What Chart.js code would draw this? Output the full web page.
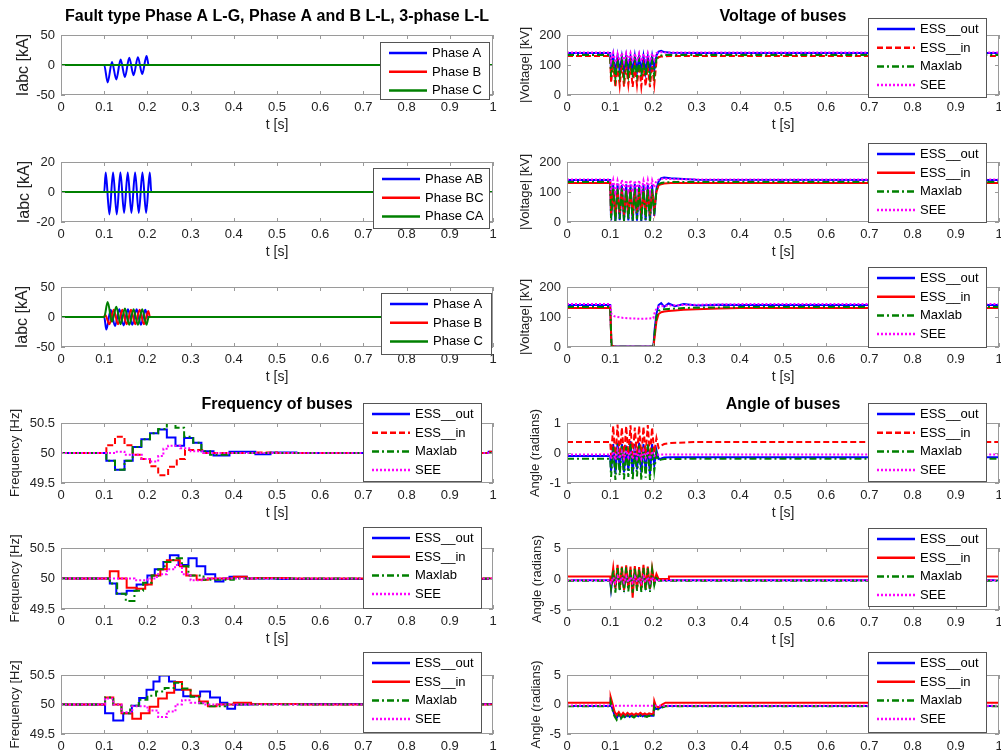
<!DOCTYPE html>
<html>
<head>
<meta charset="UTF-8">
<title>Fault simulation - currents, voltage, frequency and angle of buses</title>
<script src="https://cdn.jsdelivr.net/npm/chart.js"></script>
<style>
  html, body { margin: 0; padding: 0; background: #fff; }
  body { width: 1001px; height: 755px; overflow: hidden; position: relative; }
  canvas { position: absolute; }
</style>
</head>
<body>
<script>
// ---------- shared axis ticks ----------
const xTicks = [0, 0.1, 0.2, 0.3, 0.4, 0.5, 0.6, 0.7, 0.8, 0.9, 1];
const xTickLabels = ['0', '0.1', '0.2', '0.3', '0.4', '0.5', '0.6', '0.7', '0.8', '0.9', '1'];
const yTicksI50 = [-50, 0, 50];
const yTicksI20 = [-20, 0, 20];
const yTicksV = [0, 100, 200];
const yTicksF = [49.5, 50, 50.5];
const yTicksA1 = [-1, 0, 1];
const yTicksA5 = [-5, 0, 5];

// ---------- currents [kA] ----------
const tFlat = [0, 1];
const iZero = [0, 0];
// phase A to ground
const tA1 = [0, 0.1, 0.108, 0.118, 0.128, 0.138, 0.148, 0.158, 0.168, 0.178, 0.188, 0.198, 0.203, 1];
const iA1 = [0, 0, -29, 5, -24, 9, -20, 12, -17, 13, -15, 15, 0, 0];
// phase A-B
const tAB2 = [0, 0.1, 0.1035, 0.112, 0.1205, 0.129, 0.1375, 0.146, 0.1545, 0.163, 0.1715, 0.18, 0.1885, 0.197, 0.2055, 0.209, 1];
const iAB2 = [0, 0, 13, -15, 13, -15, 13, -14, 13, -14, 13, -14, 13, -14, 13, 0, 0];
// three phase
const tA3 = [0, 0.1, 0.105, 0.115, 0.125, 0.135, 0.145, 0.155, 0.165, 0.175, 0.185, 0.195, 0.201, 1];
const iA3 = [0, 0, -21, 12, -15, 13, -14, 13, -13, 13, -13, 12, 0, 0];
const tB3 = [0, 0.1, 0.102, 0.112, 0.122, 0.132, 0.142, 0.152, 0.162, 0.172, 0.182, 0.192, 0.202, 0.206, 1];
const iB3 = [0, 0, 4, -12, 12, -12, 12, -12, 12, -12, 12, -12, 10, 0, 0];
const tC3 = [0, 0.1, 0.108, 0.118, 0.128, 0.138, 0.148, 0.158, 0.168, 0.178, 0.188, 0.198, 0.203, 1];
const iC3 = [0, 0, 25, -8, 17, -12, 14, -13, 13, -13, 13, -13, 0, 0];

// ---------- voltage of buses [kV] ----------
const tVolt = [0, 0.1, 0.102, 0.107, 0.112, 0.117, 0.122, 0.127, 0.132, 0.137, 0.142, 0.147, 0.152, 0.157,
  0.162, 0.167, 0.172, 0.177, 0.182, 0.187, 0.192, 0.197, 0.202, 0.207, 0.212, 0.218, 0.225, 0.24, 0.3, 1];
const vOut4 = [140, 140, 80, 132, 72, 130, 78, 128, 75, 130, 80, 128, 76, 130, 78, 128, 80, 130, 76, 128, 80, 130, 85, 132, 145, 147, 143, 141, 140, 140];
const vIn4 = [130, 130, 40, 108, 25, 100, 32, 105, 28, 100, 35, 102, 27, 98, 33, 100, 28, 96, 30, 98, 26, 100, 35, 110, 126, 128, 129, 130, 130, 130];
const vMax4 = [133, 133, 60, 118, 55, 115, 62, 116, 58, 114, 64, 115, 58, 112, 63, 114, 60, 112, 62, 115, 58, 113, 65, 120, 130, 132, 133, 133, 133, 133];
const vSee4 = [142, 142, 112, 140, 108, 138, 114, 140, 110, 139, 115, 140, 111, 138, 114, 139, 112, 138, 115, 140, 112, 139, 118, 140, 142, 143, 142, 142, 142, 142];

const vOut5 = [140, 140, 5, 125, 2, 128, 6, 124, 3, 126, 5, 125, 2, 127, 4, 124, 3, 126, 5, 125, 2, 124, 20, 110, 135, 146, 148, 146, 141, 140];
const vIn5 = [130, 130, 25, 110, 18, 105, 30, 108, 22, 104, 28, 106, 20, 102, 30, 105, 24, 103, 28, 106, 22, 104, 40, 100, 122, 126, 128, 130, 130, 130];
const vMax5 = [133, 133, 8, 115, 0, 112, 10, 114, 3, 110, 8, 113, 2, 111, 9, 114, 3, 112, 7, 113, 2, 110, 25, 105, 125, 130, 132, 133, 133, 133];
const vSee5 = [142, 142, 105, 140, 100, 138, 108, 140, 102, 139, 106, 140, 100, 138, 107, 139, 103, 138, 106, 140, 101, 139, 115, 138, 141, 144, 144, 143, 142, 142];

const tVolt6 = [0, 0.1, 0.103, 0.11, 0.13, 0.15, 0.17, 0.19, 0.2, 0.203, 0.207, 0.212, 0.218, 0.225, 0.235, 0.25, 0.27, 0.3, 0.35, 0.4, 1];
const vOut6 = [140, 140, 3, 2, 2, 2, 2, 2, 2, 60, 110, 140, 146, 134, 145, 136, 143, 138, 141, 140, 140];
const vIn6 = [130, 130, 5, 1, 1, 1, 1, 1, 1, 35, 85, 110, 116, 118, 120, 122, 124, 126, 128, 130, 130];
const vMax6 = [133, 133, 4, 1, 1, 1, 1, 1, 1, 50, 100, 120, 125, 126, 127, 128, 130, 131, 132, 133, 133];
const vSee6 = [143, 143, 110, 102, 97, 95, 94, 95, 96, 115, 128, 134, 136, 137, 138, 139, 140, 141, 142, 143, 143];

// ---------- frequency of buses [Hz] (step values) ----------
const tFo7 = [0, 0.105, 0.125, 0.147, 0.166, 0.186, 0.206, 0.225, 0.245, 0.265, 0.285, 0.306, 0.325, 0.353, 0.39, 0.45, 0.485, 0.545, 0.99, 1];
const fOut7 = [50, 49.87, 49.72, 49.87, 50.1, 50.23, 50.33, 50.39, 50.26, 50.12, 50.25, 50.17, 50.03, 49.96, 50.02, 49.98, 50.01, 50.0, 50.02, 50.02];
const tFi7 = [0, 0.105, 0.125, 0.147, 0.166, 0.186, 0.206, 0.225, 0.248, 0.268, 0.287, 0.33, 0.45, 0.5, 0.99, 1];
const fIn7 = [50, 50.13, 50.27, 50.13, 49.97, 49.9, 49.78, 49.63, 49.77, 49.9, 50.05, 50.0, 50.01, 50.0, 50.02, 50.02];
const tFm7 = [0, 0.105, 0.125, 0.147, 0.166, 0.186, 0.206, 0.225, 0.245, 0.265, 0.285, 0.306, 0.325, 0.345, 0.385, 1];
const fMax7 = [50, 49.87, 49.72, 49.87, 50.1, 50.23, 50.33, 50.4, 50.5, 50.42, 50.27, 50.17, 50.03, 49.97, 50.0, 50.0];
const tFs7 = [0, 0.125, 0.147, 0.167, 0.187, 0.206, 0.225, 0.237, 0.248, 0.276, 0.3, 0.33, 1];
const fSee7 = [50, 50.02, 49.97, 49.97, 49.9, 49.86, 49.95, 50.07, 50.12, 50.08, 50.03, 50.0, 50.0];

const tFo8 = [0, 0.113, 0.128, 0.152, 0.175, 0.2, 0.217, 0.237, 0.252, 0.272, 0.295, 0.314, 0.334, 0.357, 0.376, 0.39, 0.43, 0.5, 1];
const fOut8 = [50, 49.92, 49.75, 49.8, 49.9, 50.05, 50.15, 50.27, 50.38, 50.22, 50.33, 50.2, 50.07, 49.95, 50.0, 50.03, 50.0, 49.99, 49.99];
const tFi8 = [0, 0.113, 0.133, 0.152, 0.175, 0.195, 0.21, 0.23, 0.245, 0.275, 0.29, 0.314, 0.34, 0.4, 0.43, 0.45, 0.53, 1];
const fIn8 = [50, 50.12, 50.0, 49.85, 49.83, 49.9, 50.05, 50.15, 50.3, 50.2, 50.05, 49.98, 50.0, 50.03, 50.0, 50.01, 50.0, 50.0];
const tFm8 = [0, 0.113, 0.13, 0.15, 0.17, 0.19, 0.21, 0.225, 0.24, 0.26, 0.28, 0.295, 0.33, 0.4, 1];
const fMax8 = [50, 49.92, 49.75, 49.63, 49.8, 49.93, 50.05, 50.15, 50.27, 50.33, 50.2, 50.05, 49.98, 50.0, 50.0];
const tFs8 = [0, 0.17, 0.2, 0.222, 0.245, 0.264, 0.28, 0.3, 0.33, 1];
const fSee8 = [50, 49.97, 50.0, 50.07, 50.15, 50.22, 50.07, 49.97, 50.0, 50.0];

const tFo9 = [0, 0.102, 0.121, 0.144, 0.164, 0.181, 0.198, 0.214, 0.228, 0.25, 0.264, 0.283, 0.322, 0.345, 0.368, 0.385, 0.403, 0.44, 1];
const fOut9 = [50, 49.85, 49.73, 49.85, 49.98, 50.11, 50.25, 50.39, 50.49, 50.39, 50.25, 50.14, 50.22, 50.12, 50.03, 49.93, 50.0, 50.01, 50.0];
const tFi9 = [0, 0.102, 0.121, 0.14, 0.165, 0.185, 0.205, 0.225, 0.245, 0.262, 0.28, 0.3, 0.32, 0.34, 0.36, 0.4, 0.44, 0.56, 1];
const fIn9 = [50, 50.12, 50.0, 49.85, 49.76, 49.85, 49.96, 50.1, 50.2, 50.38, 50.25, 50.15, 50.05, 49.97, 50.0, 50.03, 50.01, 50.0, 50.0];
const tFm9 = [0, 0.102, 0.121, 0.14, 0.16, 0.18, 0.2, 0.22, 0.24, 0.262, 0.28, 0.3, 0.32, 0.34, 0.38, 1];
const fMax9 = [50, 50.12, 50.0, 49.85, 49.98, 50.08, 50.15, 50.22, 50.28, 50.37, 50.27, 50.13, 50.02, 49.97, 50.0, 50.0];
const tFs9 = [0, 0.102, 0.121, 0.14, 0.165, 0.2, 0.225, 0.245, 0.265, 0.28, 0.3, 0.33, 1];
const fSee9 = [50, 50.1, 50.0, 49.87, 49.97, 49.9, 49.79, 49.88, 50.0, 50.07, 50.03, 50.0, 50.0];

// ---------- angle of buses [rad] ----------
const aOut10 = [-0.1, -0.1, -0.6, 0.3, -0.7, 0.35, -0.55, 0.3, -0.65, 0.25, -0.6, 0.4, -0.7, 0.3, -0.55, 0.35, -0.65, 0.3, -0.6, 0.25, -0.7, 0.3, -0.4, 0.1, -0.2, -0.18, -0.15, -0.14, -0.14, -0.14];
const aIn10 = [0.37, 0.37, -0.1, 0.9, -0.2, 0.95, -0.1, 0.85, -0.15, 0.9, -0.05, 0.92, -0.2, 0.85, -0.1, 0.9, -0.15, 0.88, -0.05, 0.93, -0.1, 0.85, 0.0, 0.5, 0.17, 0.25, 0.3, 0.33, 0.37, 0.37];
const aMax10 = [-0.19, -0.19, -0.8, 0.2, -0.9, 0.3, -0.75, 0.25, -0.88, 0.2, -0.8, 0.3, -0.92, 0.2, -0.78, 0.25, -0.9, 0.2, -0.82, 0.3, -0.9, 0.2, -0.6, 0.0, -0.25, -0.22, -0.2, -0.2, -0.19, -0.19];
const aSee10 = [-0.05, -0.05, -0.2, 0.05, -0.22, 0.1, -0.18, 0.05, -0.2, 0.08, -0.15, 0.05, -0.2, 0.1, -0.18, 0.05, -0.2, 0.08, -0.16, 0.05, -0.2, 0.06, -0.1, -0.05, -0.06, -0.05, -0.05, -0.05, -0.05, -0.05];

const tAng11 = [0, 0.1, 0.102, 0.107, 0.112, 0.117, 0.122, 0.127, 0.132, 0.137, 0.142, 0.147, 0.152, 0.157,
  0.162, 0.167, 0.172, 0.177, 0.182, 0.187, 0.192, 0.197, 0.202, 0.207, 0.212, 0.218, 0.234, 0.236, 0.3, 1];
const aOut11 = [-0.2, -0.2, -1.7, 0.8, -1.2, 1.0, -1.0, 0.9, -1.3, 1.1, -1.1, 0.8, -1.2, 1.0, -1.0, 0.9, -1.2, 1.0, -1.1, 0.8, -1.2, 0.9, -0.6, 0.2, -0.2, -0.2, -0.2, -0.2, -0.2, -0.2];
const aIn11 = [0.4, 0.4, -1.0, 1.8, -1.5, 2.3, -1.6, 2.0, -1.8, 2.2, -1.5, 2.0, -3.0, 2.1, -1.6, 1.9, -1.7, 2.3, -1.5, 2.0, -1.6, 1.8, -0.5, 0.8, 0.0, 0.0, 0.0, 0.4, 0.4, 0.4];
const aMax11 = [-0.3, -0.3, -1.5, 1.5, -2.2, 2.0, -2.0, 1.8, -2.1, 1.9, -2.0, 1.7, -2.2, 1.8, -1.9, 1.6, -2.1, 1.8, -2.0, 1.7, -2.1, 1.5, -1.0, 0.5, -0.3, -0.3, -0.3, -0.3, -0.3, -0.3];
const aSee11 = [-0.2, -0.2, -0.6, 0.3, -0.6, 0.4, -0.5, 0.3, -0.6, 0.4, -0.5, 0.3, -0.6, 0.4, -0.5, 0.3, -0.6, 0.4, -0.5, 0.3, -0.6, 0.3, -0.3, -0.1, -0.2, -0.2, -0.2, -0.2, -0.2, -0.2];

const tAng12 = [0, 0.1, 0.101, 0.104, 0.11, 0.115, 0.12, 0.125, 0.13, 0.135, 0.14, 0.145, 0.15, 0.155, 0.16,
  0.165, 0.17, 0.175, 0.18, 0.185, 0.19, 0.195, 0.2, 0.202, 0.206, 0.212, 0.22, 0.228, 1];
const aOut12 = [-0.25, -0.25, 0.2, -0.5, -1.8, -2.3, -1.6, -2.2, -1.7, -2.1, -1.7, -2.1, -1.8, -2.0, -1.8, -2.0, -1.7, -2.0, -1.8, -2.0, -1.8, -1.9, -1.9, -0.2, -0.8, -0.7, -0.4, -0.25, -0.25];
const aIn12 = [0.3, 0.3, 1.3, 0.5, -1.2, -1.8, -1.3, -1.9, -1.4, -1.8, -1.4, -1.7, -1.5, -1.8, -1.5, -1.7, -1.4, -1.7, -1.5, -1.7, -1.5, -1.6, -1.6, 0.6, -0.3, -0.5, 0.0, 0.3, 0.3];
const aMax12 = [-0.3, -0.3, 0.4, -0.6, -2.0, -2.6, -1.8, -2.4, -1.9, -2.3, -1.9, -2.2, -2.0, -2.2, -1.9, -2.1, -1.9, -2.1, -2.0, -2.1, -1.9, -2.0, -2.0, -0.3, -0.9, -0.8, -0.5, -0.3, -0.3];
const aSee12 = [-0.15, -0.15, -0.2, -0.2, -0.2, -0.2, -0.2, -0.2, -0.2, -0.2, -0.2, -0.2, -0.2, -0.2, -0.2, -0.2, -0.2, -0.2, -0.2, -0.2, -0.2, -0.2, -0.2, -0.2, -0.2, -0.2, -0.2, -0.2, -0.2];

// ---------- styles ----------
const BLUE = '#0000ff', RED = '#ff0000', GREEN = '#008000', MAGENTA = '#ff00ff';
const SOLID = [], DASH = [6, 3], DASHDOT = [7, 3, 2, 3], DOT = [2, 2];
const FONT = '"Liberation Sans", Arial, Helvetica, sans-serif';

Chart.defaults.font.family = FONT;
Chart.defaults.color = '#222';

const COLS = [
  { left: 0, width: 500, plotLeft: 61, plotRight: 493 },
  { left: 500, width: 501, plotLeft: 567, plotRight: 999 }
];

function pts(t, y) {
  return t.map((v, i) => ({ x: v, y: y[i] }));
}

function busSeries(out, inn, max, see, inDash, t, step) {
  return [
    { label: 'ESS__out', t: t[0], y: out, color: BLUE, dash: SOLID, step },
    { label: 'ESS__in', t: t[1], y: inn, color: RED, dash: inDash, step },
    { label: 'Maxlab', t: t[2], y: max, color: GREEN, dash: DASHDOT, step },
    { label: 'SEE', t: t[3], y: see, color: MAGENTA, dash: DOT, step }
  ];
}

const charts = [
  { col: 0, top: 35, bottom: 95, yMin: -50, yMax: 50, yTicks: yTicksI50,
    title: 'Fault type Phase A L-G, Phase A and B L-L, 3-phase L-L',
    yTitle: 'Iabc [kA]', yTitleX: 24, yTitleSize: 16,
    legend: { x: 380, y: 42, w: 110, h: 58 },
    series: [
      { label: 'Phase A', t: tA1, y: iA1, color: BLUE, dash: SOLID, smooth: true },
      { label: 'Phase B', t: tFlat, y: iZero, color: RED, dash: SOLID },
      { label: 'Phase C', t: tFlat, y: iZero, color: GREEN, dash: SOLID }
    ] },
  { col: 0, top: 162, bottom: 222, yMin: -20, yMax: 20, yTicks: yTicksI20,
    yTitle: 'Iabc [kA]', yTitleX: 25, yTitleSize: 16,
    legend: { x: 373, y: 168, w: 117, h: 61 },
    series: [
      { label: 'Phase AB', t: tAB2, y: iAB2, color: BLUE, dash: SOLID, smooth: true },
      { label: 'Phase BC', t: tFlat, y: iZero, color: RED, dash: SOLID },
      { label: 'Phase CA', t: tFlat, y: iZero, color: GREEN, dash: SOLID }
    ] },
  { col: 0, top: 287, bottom: 347, yMin: -50, yMax: 50, yTicks: yTicksI50,
    yTitle: 'Iabc [kA]', yTitleX: 23, yTitleSize: 16,
    legend: { x: 381, y: 293, w: 111, h: 62 },
    series: [
      { label: 'Phase A', t: tA3, y: iA3, color: BLUE, dash: SOLID, smooth: true },
      { label: 'Phase B', t: tB3, y: iB3, color: RED, dash: SOLID, smooth: true },
      { label: 'Phase C', t: tC3, y: iC3, color: GREEN, dash: SOLID, smooth: true }
    ] },
  { col: 1, top: 35, bottom: 95, yMin: 0, yMax: 200, yTicks: yTicksV,
    title: 'Voltage of buses', yTitle: '|Voltage| [kV]', yTitleX: 525, yTitleSize: 13,
    legend: { x: 868, y: 18, w: 119, h: 80 },
    series: busSeries(vOut4, vIn4, vMax4, vSee4, DASH, [tVolt, tVolt, tVolt, tVolt], false) },
  { col: 1, top: 162, bottom: 222, yMin: 0, yMax: 200, yTicks: yTicksV,
    yTitle: '|Voltage| [kV]', yTitleX: 525, yTitleSize: 13,
    legend: { x: 868, y: 143, w: 119, h: 80 },
    series: busSeries(vOut5, vIn5, vMax5, vSee5, SOLID, [tVolt, tVolt, tVolt, tVolt], false) },
  { col: 1, top: 287, bottom: 347, yMin: 0, yMax: 200, yTicks: yTicksV,
    yTitle: '|Voltage| [kV]', yTitleX: 525, yTitleSize: 13,
    legend: { x: 868, y: 267, w: 119, h: 81 },
    series: busSeries(vOut6, vIn6, vMax6, vSee6, SOLID, [tVolt6, tVolt6, tVolt6, tVolt6], false) },
  { col: 0, top: 423, bottom: 483, yMin: 49.5, yMax: 50.5, yTicks: yTicksF,
    title: 'Frequency of buses', yTitle: 'Frequency [Hz]', yTitleX: 15, yTitleSize: 13,
    legend: { x: 363, y: 403, w: 119, h: 79 },
    series: busSeries(fOut7, fIn7, fMax7, fSee7, DASH, [tFo7, tFi7, tFm7, tFs7], true) },
  { col: 0, top: 548, bottom: 609, yMin: 49.5, yMax: 50.5, yTicks: yTicksF,
    yTitle: 'Frequency [Hz]', yTitleX: 15, yTitleSize: 13,
    legend: { x: 363, y: 527, w: 119, h: 82 },
    series: busSeries(fOut8, fIn8, fMax8, fSee8, SOLID, [tFo8, tFi8, tFm8, tFs8], true) },
  { col: 0, top: 675, bottom: 734, yMin: 49.5, yMax: 50.5, yTicks: yTicksF,
    yTitle: 'Frequency [Hz]', yTitleX: 15, yTitleSize: 13,
    legend: { x: 363, y: 652, w: 119, h: 81 },
    series: busSeries(fOut9, fIn9, fMax9, fSee9, SOLID, [tFo9, tFi9, tFm9, tFs9], true) },
  { col: 1, top: 423, bottom: 483, yMin: -1, yMax: 1, yTicks: yTicksA1,
    title: 'Angle of buses', yTitle: 'Angle (radians)', yTitleX: 535, yTitleSize: 13,
    legend: { x: 868, y: 403, w: 119, h: 79 },
    series: busSeries(aOut10, aIn10, aMax10, aSee10, DASH, [tVolt, tVolt, tVolt, tVolt], false) },
  { col: 1, top: 548, bottom: 610, yMin: -5, yMax: 5, yTicks: yTicksA5,
    yTitle: 'Angle (radians)', yTitleX: 537, yTitleSize: 13,
    legend: { x: 868, y: 528, w: 119, h: 79 },
    series: busSeries(aOut11, aIn11, aMax11, aSee11, SOLID, [tAng11, tAng11, tAng11, tAng11], false) },
  { col: 1, top: 675, bottom: 734, yMin: -5, yMax: 5, yTicks: yTicksA5,
    yTitle: 'Angle (radians)', yTitleX: 536, yTitleSize: 13,
    legend: { x: 868, y: 652, w: 119, h: 81 },
    series: busSeries(aOut12, aIn12, aMax12, aSee12, SOLID, [tAng12, tAng12, tAng12, tAng12], false) }
];

const PAD_TOP = 35, AXIS_H = 45;

// draws the MATLAB style axes box, titles and the legend on top of the plot
function matlabLook(c, ox, oy) {
  return {
    id: 'matlabLook',
    afterDatasetsDraw(chart) {
      const ctx = chart.ctx, a = chart.chartArea;
      const xs = chart.scales.x, ys = chart.scales.y;
      ctx.save();
      ctx.strokeStyle = '#9a9a9a';
      ctx.lineWidth = 1;
      ctx.setLineDash([]);
      ctx.strokeRect(a.left + 0.5, a.top + 0.5, a.right - a.left - 1, a.bottom - a.top - 1);
      ctx.beginPath();
      xs.ticks.forEach(t => {
        const px = Math.round(xs.getPixelForValue(t.value)) + 0.5;
        ctx.moveTo(px, a.bottom); ctx.lineTo(px, a.bottom - 4);
        ctx.moveTo(px, a.top); ctx.lineTo(px, a.top + 4);
      });
      ys.ticks.forEach(t => {
        const py = Math.round(ys.getPixelForValue(t.value)) + 0.5;
        ctx.moveTo(a.left, py); ctx.lineTo(a.left + 4, py);
        ctx.moveTo(a.right, py); ctx.lineTo(a.right - 4, py);
      });
      ctx.stroke();
      ctx.restore();
    },
    afterDraw(chart) {
      const ctx = chart.ctx, a = chart.chartArea;
      ctx.save();
      ctx.fillStyle = '#000';
      ctx.textAlign = 'center';
      ctx.textBaseline = 'middle';
      if (c.title) {
        ctx.font = 'bold 16px ' + FONT;
        ctx.fillText(c.title, (a.left + a.right) / 2, a.top - 18);
      }
      ctx.font = '14px ' + FONT;
      ctx.fillStyle = '#222';
      ctx.fillText('t [s]', (a.left + a.right) / 2, a.bottom + 30);

      ctx.save();
      ctx.translate(c.yTitleX - ox, (a.top + a.bottom) / 2);
      ctx.rotate(-Math.PI / 2);
      ctx.font = c.yTitleSize + 'px ' + FONT;
      ctx.fillText(c.yTitle, 0, 0);
      ctx.restore();

      // legend
      const L = c.legend;
      const lx = L.x - ox, ly = L.y - oy;
      ctx.fillStyle = '#fff';
      ctx.fillRect(lx, ly, L.w, L.h);
      ctx.strokeStyle = '#555';
      ctx.lineWidth = 1;
      ctx.strokeRect(lx + 0.5, ly + 0.5, L.w - 1, L.h - 1);
      ctx.textAlign = 'left';
      ctx.font = '13px ' + FONT;
      c.series.forEach((s, i) => {
        const cy = ly + 11 + 18.7 * i;
        ctx.strokeStyle = s.color;
        ctx.lineWidth = 2.5;
        ctx.setLineDash(s.dash);
        ctx.beginPath();
        ctx.moveTo(lx + 9, cy);
        ctx.lineTo(lx + 47, cy);
        ctx.stroke();
        ctx.setLineDash([]);
        ctx.fillStyle = '#000';
        ctx.fillText(s.label, lx + 52, cy + 0.5);
      });
      ctx.restore();
    }
  };
}

charts.forEach(c => {
  const col = COLS[c.col];
  const plotH = c.bottom - c.top;
  const cv = document.createElement('canvas');
  cv.width = col.width;
  cv.height = PAD_TOP + plotH + AXIS_H;
  cv.style.left = col.left + 'px';
  cv.style.top = (c.top - PAD_TOP) + 'px';
  document.body.appendChild(cv);
  const ox = col.left, oy = c.top - PAD_TOP;

  const n = c.series.length;
  const datasets = c.series.map((s, i) => ({
    label: s.label,
    data: pts(s.t, s.y),
    borderColor: s.color,
    borderWidth: 2,
    borderDash: s.dash,
    pointRadius: 0,
    fill: false,
    tension: 0,
    cubicInterpolationMode: s.smooth ? 'monotone' : 'default',
    stepped: s.step ? true : false,
    order: n - i
  }));

  new Chart(cv, {
    type: 'line',
    data: { datasets },
    options: {
      responsive: false,
      animation: false,
      events: [],
      layout: { padding: { top: PAD_TOP, left: 0, bottom: 0, right: col.left + col.width - col.plotRight } },
      plugins: { legend: { display: false }, tooltip: { enabled: false } },
      scales: {
        x: {
          type: 'linear', min: 0, max: 1,
          afterBuildTicks: s => { s.ticks = xTicks.map(v => ({ value: v })); },
          afterFit: s => { s.height = AXIS_H; s.paddingLeft = 0; s.paddingRight = 0; },
          ticks: { callback: (v, i) => xTickLabels[i], autoSkip: false, maxRotation: 0, padding: 5, font: { size: 13 }, color: '#222' },
          grid: { display: false, drawTicks: false },
          border: { display: false }
        },
        y: {
          type: 'linear', min: c.yMin, max: c.yMax,
          afterBuildTicks: s => { s.ticks = c.yTicks.map(v => ({ value: v })); },
          afterFit: s => { s.width = col.plotLeft - col.left; s.paddingTop = 0; s.paddingBottom = 0; },
          ticks: { callback: v => String(v), padding: 6, font: { size: 13 }, color: '#222' },
          grid: { display: false, drawTicks: false },
          border: { display: false }
        }
      }
    },
    plugins: [matlabLook(c, ox, oy)]
  });
});
</script>
</body>
</html>
